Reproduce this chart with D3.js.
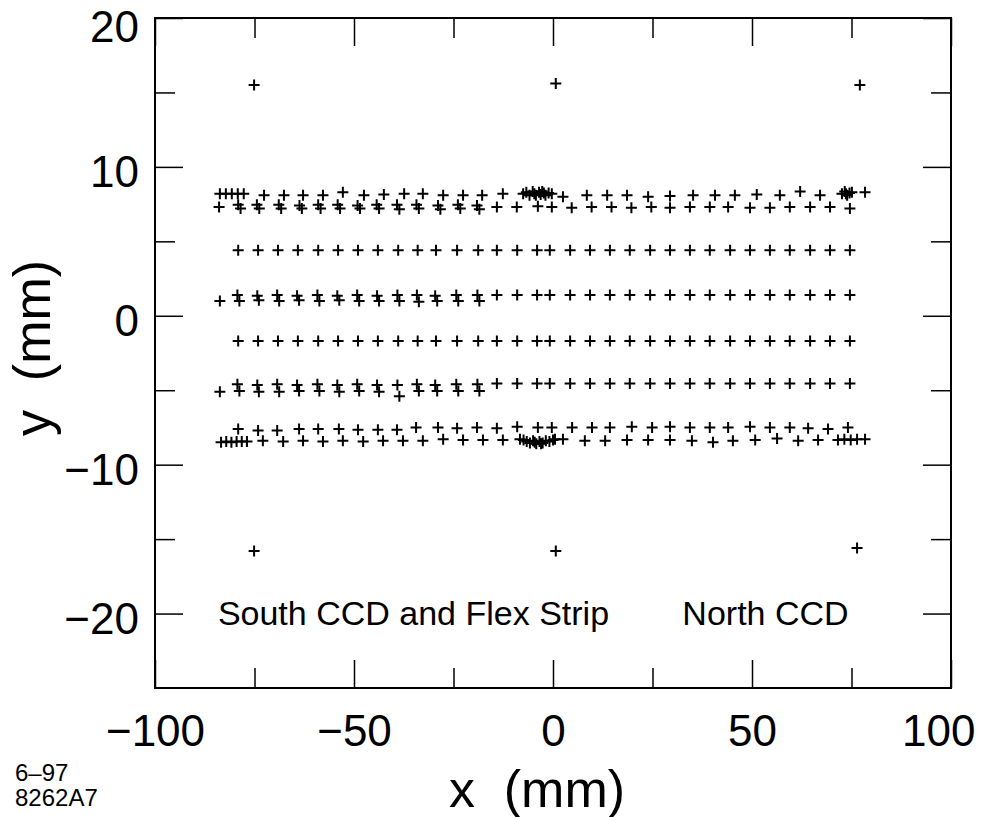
<!DOCTYPE html>
<html>
<head>
<meta charset="utf-8">
<script src="https://cdn.jsdelivr.net/npm/d3@7/dist/d3.min.js"></script>
<style>
  body { margin: 0; background: #fff; }
  svg text { font-family: "Liberation Sans", Arial, Helvetica, sans-serif; fill: #000; }
</style>
</head>
<body>
<div id="chart"></div>
<script>
// tick values
var xMajor = [-100, -50, 0, 50, 100];
var xMinor = [-75, -25, 25, 75];
var yMajor = [-20, -10, 0, 10, 20];
var yMinor = [-15, -5, 5, 15];

// fiducial marks in the corners
var fiducials = [[-75.1, 15.5], [0.7, 15.6], [77.1, 15.5], [-75.1, -15.8], [0.7, -15.8], [76.4, -15.6]];

// common x positions of the regular rows
var gridX = [-79.1, -74.1, -69.1, -64.1, -59.0, -54.0, -49.0, -44.0, -38.9, -34.0, -29.4, -24.1, -18.8,
  -14.1, -9.0, -4.0, -0.8, 4.3, 9.3, 14.3, 19.3, 24.4, 29.4, 34.4, 39.4, 44.5, 49.5, 54.5, 59.5, 64.6, 69.6, 74.6];
var fullRowsY = [4.4, -1.7];       // rows measured once along the whole length
var northRowsY = [1.4, -4.55];     // rows measured once on the north half (gridX from -14.1)

// outer row at the top edge
var topEdge = [[-83.7, 8.2], [-82.2, 8.2], [-80.7, 8.2], [-79.2, 8.2], [-77.7, 8.2],
  [-72.6, 8.1], [-67.6, 8.1], [-62.8, 8.1], [-57.8, 8.1], [-52.8, 8.3], [-47.5, 8.1], [-42.5, 8.15], [-37.4, 8.2], [-32.7, 8.2],
  [-27.6, 8.1], [-22.6, 8.1], [-17.8, 8.1], [-12.6, 8.2],
  [-7.5, 8.2], [-6.7, 8.3], [-5.9, 8.1], [-5.1, 8.35], [-4.3, 8.1], [-3.5, 8.3], [-2.7, 8.35], [-1.9, 8.1], [-1.1, 8.25], [-0.3, 8.2],
  [-4.7, 8.2], [-3.1, 8.15], [-2.3, 8.25],
  [2.5, 8.0], [8.5, 8.1], [13.6, 8.1], [18.6, 8.1], [23.9, 8.0],
  [29.4, 8.05], [35.2, 8.1], [40.7, 8.1], [45.7, 8.1], [51.2, 8.15], [57.0, 8.1], [62.1, 8.35], [67.1, 8.1],
  [72.6, 8.2], [73.3, 8.35], [73.9, 8.1], [74.5, 8.25], [75.1, 8.3], [73.6, 8.2], [78.4, 8.3]];

// inner row near the top edge
var topInner = [[-83.9, 7.3],
  [-79.1, 7.45], [-78.5, 7.2], [-74.4, 7.45], [-73.8, 7.2], [-68.9, 7.45], [-68.3, 7.2], [-63.7, 7.4], [-63.1, 7.2],
  [-59.0, 7.45], [-58.4, 7.2], [-54.1, 7.45], [-53.5, 7.2], [-49.1, 7.4], [-48.5, 7.2], [-44.3, 7.45], [-43.7, 7.2],
  [-39.2, 7.45], [-38.6, 7.15], [-34.3, 7.45], [-33.7, 7.2], [-28.9, 7.4], [-28.3, 7.15], [-23.9, 7.45], [-23.3, 7.2],
  [-19.1, 7.4], [-18.5, 7.15],
  [-14.1, 7.3], [-9.1, 7.3], [-3.8, 7.35], [-0.3, 7.3], [4.7, 7.25], [9.7, 7.3], [14.7, 7.3], [19.7, 7.25], [24.7, 7.3],
  [29.4, 7.25], [34.4, 7.3], [39.4, 7.3], [44.0, 7.3], [49.5, 7.25], [54.5, 7.25], [59.5, 7.3], [64.6, 7.3], [69.6, 7.3], [74.6, 7.2]];

// south half of the y = 1.4 row, measured twice
var southPairsA = [[-83.7, 1.0],
  [-79.3, 1.4], [-78.8, 1.0], [-74.3, 1.35], [-73.9, 1.05], [-69.3, 1.4], [-68.8, 1.0], [-64.3, 1.35], [-63.8, 1.05],
  [-59.2, 1.4], [-58.7, 1.0], [-54.2, 1.35], [-53.7, 1.05], [-49.2, 1.4], [-48.7, 1.0], [-44.2, 1.35], [-43.7, 1.0],
  [-39.1, 1.4], [-38.6, 1.0], [-34.2, 1.4], [-33.7, 0.95], [-29.6, 1.35], [-29.1, 1.0], [-24.3, 1.4], [-23.8, 1.0],
  [-19.0, 1.4], [-18.5, 1.0]];

// south half of the y = -4.6 row, measured twice
var southPairsB = [[-83.7, -5.1],
  [-79.3, -4.6], [-78.8, -5.05], [-74.3, -4.65], [-73.9, -5.1], [-69.3, -4.6], [-68.8, -5.1], [-64.3, -4.65], [-63.8, -5.05],
  [-59.2, -4.6], [-58.7, -5.05], [-54.2, -4.65], [-53.7, -5.1], [-49.2, -4.6], [-48.7, -5.05], [-44.2, -4.65], [-43.7, -5.1],
  [-39.1, -4.65], [-38.6, -5.4], [-34.2, -4.6], [-33.7, -5.05], [-29.6, -4.65], [-29.1, -5.05], [-24.3, -4.6], [-23.8, -5.05],
  [-19.0, -4.6], [-18.5, -5.05]];

// inner row near the bottom edge
var bottomInner = [[-79.1, -7.6], [-74.1, -7.7], [-69.3, -7.7], [-63.8, -7.6], [-59.0, -7.6], [-53.8, -7.6], [-49.0, -7.65],
  [-44.0, -7.65], [-39.2, -7.65], [-34.4, -7.5], [-28.9, -7.5], [-24.1, -7.55], [-19.1, -7.5], [-14.1, -7.55], [-9.0, -7.45],
  [-3.8, -7.5], [-0.3, -7.5], [4.8, -7.5], [9.8, -7.5], [14.3, -7.5], [19.8, -7.45], [24.9, -7.5], [29.4, -7.45], [34.4, -7.5],
  [39.4, -7.5], [44.0, -7.5], [49.5, -7.45], [54.5, -7.5], [59.5, -7.5], [64.1, -7.55], [69.1, -7.6], [74.1, -7.5]];

// outer row at the bottom edge
var bottomEdge = [[-83.4, -8.5], [-82.1, -8.45], [-80.8, -8.5], [-79.5, -8.45], [-78.2, -8.45], [-76.9, -8.45],
  [-72.9, -8.4], [-67.8, -8.45], [-62.8, -8.4], [-57.8, -8.45], [-52.8, -8.4], [-47.7, -8.45], [-42.7, -8.4], [-37.7, -8.4], [-32.7, -8.4],
  [-27.6, -8.3], [-22.6, -8.35], [-17.6, -8.35], [-12.6, -8.35],
  [-8.3, -8.3], [-7.4, -8.35], [-6.6, -8.45], [-5.8, -8.55], [-5.0, -8.4], [-4.2, -8.6], [-3.4, -8.45], [-2.6, -8.55], [-1.8, -8.4],
  [-0.9, -8.45], [0.0, -8.35], [0.5, -8.3], [-4.6, -8.5], [-3.0, -8.6],
  [2.5, -8.3], [8.0, -8.4], [13.1, -8.4], [18.6, -8.35], [23.9, -8.35],
  [29.4, -8.35], [34.9, -8.4], [40.2, -8.5], [45.2, -8.4], [50.8, -8.35], [56.3, -8.25], [61.6, -8.4], [66.6, -8.35],
  [71.6, -8.35], [73.2, -8.3], [74.8, -8.35], [76.4, -8.3], [78.4, -8.3]];

var labels = ["South CCD and Flex Strip", "North CCD"];

var svgWidth = 981;
var svgHeight = 817;
var plot = {left: 155, right: 951, top: 18, bottom: 688};
var font = '"Liberation Sans", Arial, Helvetica, sans-serif';

var svg = d3.select("#chart").append("svg")
  .attr("width", svgWidth)
  .attr("height", svgHeight);

var xScale = d3.scaleLinear().domain([-100, 100]).range([plot.left, plot.right]);
var yScale = d3.scaleLinear().domain([-25, 20]).range([plot.bottom, plot.top]);

// collect all points
var points = fiducials.concat(topEdge, topInner, southPairsA, southPairsB, bottomInner, bottomEdge);
fullRowsY.forEach(function(yv) {
  gridX.forEach(function(xv) { points.push([xv, yv]); });
});
northRowsY.forEach(function(yv) {
  gridX.slice(13).forEach(function(xv) { points.push([xv, yv]); });
});

function styleAxis(g, fontSize) {
  g.select(".domain").remove();
  g.selectAll(".tick line").attr("stroke", "#000").attr("stroke-width", 1.5);
  g.selectAll(".tick text").attr("font-size", fontSize).attr("font-family", font).attr("fill", "#000");
}

var fmt = d3.format("d");

// bottom
svg.append("g").attr("transform", `translate(0, ${plot.bottom})`)
  .call(d3.axisBottom(xScale).tickValues(xMajor).tickSize(-28).tickPadding(27).tickFormat(fmt))
  .call(styleAxis, 44)
  // the last label sits against the right edge of the figure
  .call(g => g.selectAll(".tick text").filter(d => d === 100).attr("text-anchor", "end").attr("x", 24));
svg.append("g").attr("transform", `translate(0, ${plot.bottom})`)
  .call(d3.axisBottom(xScale).tickValues(xMinor).tickSize(-20).tickFormat(""))
  .call(styleAxis, 0);
// top
svg.append("g").attr("transform", `translate(0, ${plot.top})`)
  .call(d3.axisTop(xScale).tickValues(xMajor).tickSize(-28).tickFormat(""))
  .call(styleAxis, 0);
svg.append("g").attr("transform", `translate(0, ${plot.top})`)
  .call(d3.axisTop(xScale).tickValues(xMinor).tickSize(-20).tickFormat(""))
  .call(styleAxis, 0);
// left
svg.append("g").attr("transform", `translate(${plot.left}, 0)`)
  .call(d3.axisLeft(yScale).tickValues(yMajor).tickSize(-28).tickPadding(16).tickFormat(fmt))
  .call(styleAxis, 44)
  .call(g => g.selectAll(".tick text").attr("dy", d => d === 20 ? "0.53em" : "0.45em"));
svg.append("g").attr("transform", `translate(${plot.left}, 0)`)
  .call(d3.axisLeft(yScale).tickValues(yMinor).tickSize(-20).tickFormat(""))
  .call(styleAxis, 0);
// right
svg.append("g").attr("transform", `translate(${plot.right}, 0)`)
  .call(d3.axisRight(yScale).tickValues(yMajor).tickSize(-28).tickFormat(""))
  .call(styleAxis, 0);
svg.append("g").attr("transform", `translate(${plot.right}, 0)`)
  .call(d3.axisRight(yScale).tickValues(yMinor).tickSize(-20).tickFormat(""))
  .call(styleAxis, 0);

// frame
svg.append("rect")
  .attr("x", plot.left)
  .attr("y", plot.top)
  .attr("width", plot.right - plot.left)
  .attr("height", plot.bottom - plot.top)
  .attr("fill", "none")
  .attr("stroke", "#000")
  .attr("stroke-width", 2);

// crosses
svg.append("g").selectAll("path")
  .data(points)
  .enter()
  .append("path")
  .attr("transform", d => `translate(${xScale(d[0])}, ${yScale(d[1])})`)
  .attr("d", "M-5.5,0H5.5M0,-5.5V5.5")
  .attr("stroke", "#000")
  .attr("stroke-width", 2)
  .attr("fill", "none");

// labels inside the plot
svg.append("text")
  .attr("x", xScale(-84.2))
  .attr("y", yScale(-20.75))
  .attr("font-size", 34)
  .text(labels[0]);
svg.append("text")
  .attr("x", xScale(32.5))
  .attr("y", yScale(-20.75))
  .attr("font-size", 34)
  .text(labels[1]);

// axis titles
svg.append("text")
  .attr("x", 537)
  .attr("y", 807)
  .attr("text-anchor", "middle")
  .attr("font-size", 52)
  .style("white-space", "pre")
  .text("x  (mm)");
svg.append("text")
  .attr("transform", "translate(50, 348) rotate(-90)")
  .attr("text-anchor", "middle")
  .attr("font-size", 52)
  .style("white-space", "pre")
  .text("y  (mm)");

// figure id
svg.append("text").attr("x", 15).attr("y", 781).attr("font-size", 24).text("6\u201397");
svg.append("text").attr("x", 15).attr("y", 806).attr("font-size", 24).text("8262A7");
</script>
</body>
</html>
